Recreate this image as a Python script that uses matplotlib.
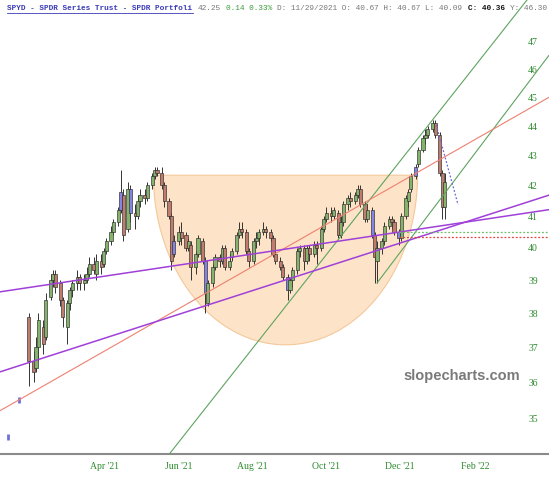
import numpy as np
import pandas as pd
import matplotlib
matplotlib.use('Agg')
import matplotlib.pyplot as plt
import matplotlib.dates as mdates
from matplotlib.lines import Line2D
from matplotlib.ticker import FixedLocator, FixedFormatter, NullLocator

# one candle every second trading day
dates = pd.bdate_range('2021-01-28', periods=248)[::2]

opens = [37.9, 36.6, 36.4, 37.0, 37.6, 37.3, 38.5, 39.0, 39.2, 38.9,
         38.4, 37.6, 38.3, 38.7, 38.9, 39.1, 38.9, 39.0, 39.2, 39.5,
         39.2, 39.6, 39.5, 39.9, 40.2, 40.5, 40.8, 41.2, 41.7, 40.6,
         41.9, 41.1, 41.0, 41.5, 41.7, 41.6, 42.0, 42.3, 42.5, 42.4,
         42.0, 41.5, 41.0, 39.8, 40.2, 40.5, 40.4, 40.0, 40.1, 39.4,
         39.8, 40.2, 39.6, 38.3, 38.9, 39.4, 39.7, 39.6, 40.0, 39.4,
         39.7, 39.9, 40.4, 40.6, 40.5, 39.9, 39.6, 40.2, 40.3, 40.5,
         40.6, 40.5, 40.3, 39.8, 39.6, 39.4, 39.1, 38.7, 39.0, 39.3,
         39.9, 40.0, 39.6, 40.0, 39.8, 40.1, 40.0, 40.6, 40.9, 41.1,
         41.0, 41.1, 40.4, 40.8, 41.4, 41.6, 41.5, 41.7, 41.9, 41.4,
         40.9, 41.2, 40.4, 39.6, 40.0, 40.2, 40.7, 40.9, 40.8, 40.5,
         40.3, 41.0, 41.5, 41.9, 42.3, 42.7, 43.2, 43.6, 43.7, 43.9,
         44.1, 43.7, 42.4, 41.3]
highs = [38.0, 36.9, 37.3, 38.0, 37.8, 38.6, 39.2, 39.3, 39.3, 39.0,
         38.5, 38.4, 38.8, 39.0, 39.3, 39.2, 39.2, 39.4, 39.7, 39.7,
         39.8, 39.8, 40.0, 40.3, 40.7, 40.9, 41.3, 42.5, 41.9, 42.1,
         42.0, 41.4, 41.7, 41.9, 41.9, 42.1, 42.4, 42.6, 42.6, 42.6,
         42.1, 41.6, 41.1, 40.4, 40.7, 40.8, 40.5, 40.3, 40.2, 39.9,
         40.4, 40.3, 39.7, 39.0, 39.5, 39.8, 39.8, 40.1, 40.1, 39.8,
         40.0, 40.5, 40.8, 40.8, 40.6, 40.0, 40.3, 40.5, 40.6, 40.8,
         40.7, 40.6, 40.4, 39.9, 39.7, 39.5, 39.2, 39.1, 39.4, 40.0,
         40.1, 40.1, 40.1, 40.1, 40.2, 40.2, 40.7, 41.0, 41.3, 41.3,
         41.3, 41.2, 41.0, 41.5, 41.7, 41.8, 41.8, 42.0, 42.0, 41.5,
         41.4, 41.3, 40.5, 40.2, 40.3, 40.8, 41.0, 41.0, 40.9, 40.6,
         41.1, 41.7, 41.9, 42.4, 42.7, 43.3, 43.7, 43.9, 44.0, 44.2,
         44.2, 43.8, 42.5, 42.4]
lows = [35.9, 36.0, 36.3, 36.6, 36.8, 37.2, 38.4, 38.8, 38.6, 38.2,
        37.6, 37.1, 38.1, 38.5, 38.7, 38.7, 38.7, 38.9, 39.1, 39.2,
        39.0, 39.2, 39.4, 39.8, 40.1, 40.4, 40.7, 41.1, 40.2, 40.5,
        40.8, 40.6, 40.9, 41.3, 41.4, 41.5, 41.9, 42.2, 42.3, 41.9,
        41.3, 40.9, 39.3, 39.7, 40.1, 40.1, 39.9, 39.9, 39.0, 39.2,
        39.7, 39.5, 38.0, 38.2, 38.8, 39.3, 39.4, 39.5, 39.3, 39.3,
        39.6, 39.8, 40.3, 40.3, 39.8, 39.4, 39.5, 40.0, 40.1, 40.4,
        40.3, 40.2, 39.7, 39.5, 39.3, 39.0, 38.4, 38.6, 38.8, 39.2,
        39.7, 39.3, 39.5, 39.6, 39.7, 39.5, 39.9, 40.5, 40.8, 40.8,
        40.9, 40.3, 40.3, 40.7, 41.2, 41.3, 41.4, 41.6, 41.3, 40.8,
        40.8, 40.3, 38.9, 38.9, 39.8, 40.1, 40.6, 40.6, 40.4, 40.1,
        40.2, 40.9, 41.3, 41.8, 42.2, 42.6, 43.1, 43.4, 43.6, 43.8,
        43.6, 42.3, 40.9, 40.9]
closes = [36.6, 36.3, 37.0, 37.8, 37.1, 38.4, 39.0, 39.2, 38.8, 38.4,
          37.9, 38.3, 38.7, 38.9, 39.1, 38.9, 39.0, 39.2, 39.5, 39.3,
          39.6, 39.4, 39.9, 40.2, 40.5, 40.8, 41.2, 41.8, 40.4, 41.9,
          41.1, 41.0, 41.5, 41.7, 41.6, 42.0, 42.3, 42.5, 42.4, 42.0,
          41.5, 41.0, 39.6, 40.2, 40.5, 40.3, 40.0, 40.2, 39.4, 39.8,
          40.3, 39.6, 38.6, 38.9, 39.4, 39.7, 39.6, 40.0, 39.4, 39.6,
          39.9, 40.4, 40.6, 40.5, 39.9, 39.6, 40.2, 40.3, 40.5, 40.6,
          40.5, 40.3, 39.8, 39.6, 39.4, 39.1, 38.7, 39.0, 39.3, 39.9,
          40.0, 39.6, 40.0, 39.8, 40.1, 40.0, 40.6, 40.9, 41.1, 41.0,
          41.2, 40.4, 40.8, 41.4, 41.6, 41.5, 41.7, 41.9, 41.4, 40.9,
          41.2, 40.4, 39.7, 40.0, 40.2, 40.7, 40.9, 40.8, 40.5, 40.3,
          41.0, 41.6, 41.8, 42.3, 42.6, 43.2, 43.6, 43.7, 43.9, 44.1,
          43.7, 42.4, 41.3, 42.1]
blue_bars = [27, 30, 43, 52, 76, 101, 109, 114]

# two stray prints at the far left
stray_dates = ['2021-01-11', '2021-01-20']
stray_prices = [34.48, 35.50]

# drawn trend lines: (dates, prices) of the two end points
green_upper = (['2021-05-25', '2022-03-16'], [34.06, 48.57])
green_lower = (['2021-11-12', '2022-04-03'], [38.91, 46.5])
red_line = (['2021-01-04', '2022-04-03'], [35.2, 45.0])
purple_a = (['2021-01-04', '2022-04-03'], [38.64, 41.21])
purple_b = (['2021-01-04', '2022-04-03'], [36.29, 41.68])
blue_dotted = (['2021-12-31', '2022-01-18'], [44.04, 41.37])
levels_start = '2021-11-30'
green_level = 40.49
red_level = 40.33

# rounding bottom (half ellipse)
bowl_center = '2021-08-28 07:00'
bowl_halfwidth = 109.2
bowl_top = 42.34
bowl_bottom = 37.07

tick_dates = ['2021-04-01', '2021-06-01', '2021-08-01', '2021-10-01', '2021-12-01', '2022-02-01']
tick_labels = ["Apr '21", "Jun '21", "Aug '21", "Oct '21", "Dec '21", "Feb '22"]
y_ticks = list(range(35, 48))

GREEN_TXT = '#2e8b2e'

fig = plt.figure(figsize=(5.49, 4.80), dpi=100)
ax = fig.add_axes([0, 26 / 480, 1, 454 / 480])
ax.set_yscale('log')

def dn(s):
    return mdates.date2num(pd.to_datetime(s))

# bowl
t = np.linspace(0, np.pi, 200)
bx = dn(bowl_center) + bowl_halfwidth * np.cos(t)
by = np.exp(np.log(bowl_top) - (np.log(bowl_top) - np.log(bowl_bottom)) * np.sin(t))
ax.fill(bx, by, facecolor='#fde4c8', edgecolor='#f4c89a', lw=0.8, zorder=1)

# candles
d = mdates.date2num(dates)
o = np.array(opens)
c = np.array(closes)
cols = np.where(c >= o, '#84b46c', '#c07c6c').astype(object)
cols[blue_bars] = '#8484e6'
ax.vlines(d, lows, highs, color='#333333', lw=0.7, zorder=3)
ax.bar(d, c - o, bottom=o, width=2.6, color=list(cols), edgecolor='#2a2a2a',
       linewidth=0.45, zorder=4)
ax.vlines(dn(stray_dates), np.array(stray_prices) - 0.08, np.array(stray_prices) + 0.08,
          color='#7070d8', lw=2, zorder=4)

# lines
for (xs, ys), col, lw in [(green_upper, '#5ea35e', 0.8), (green_lower, '#5ea35e', 0.8),
                          (red_line, '#ee8070', 0.8), (purple_a, '#a040d8', 1.1),
                          (purple_b, '#a040d8', 1.1)]:
    ax.plot(dn(xs), ys, color=col, lw=lw, zorder=5)
ax.plot(dn(blue_dotted[0]), blue_dotted[1], color='#6a6ad8', lw=0.9, ls=(0, (1.5, 1.5)), zorder=5)
ax.plot(dn([levels_start, '2022-04-03']), [green_level] * 2, color='#6cc06c', lw=0.9,
        ls=(0, (1.5, 1.5)), zorder=5)
ax.plot(dn([levels_start, '2022-04-03']), [red_level] * 2, color='#e84040', lw=0.9,
        ls=(0, (1.5, 1.5)), zorder=5)

ax.set_xlim(dn('2021-01-04 05:00'), dn('2022-04-03 05:00'))
ax.set_ylim(34.03, 48.57)

ax.set_xticks(dn(tick_dates))
ax.set_xticklabels(tick_labels)
ax.yaxis.set_major_locator(FixedLocator(y_ticks))
ax.yaxis.set_major_formatter(FixedFormatter([str(v) for v in y_ticks]))
ax.yaxis.set_minor_locator(NullLocator())
ax.yaxis.tick_right()
ax.tick_params(axis='x', length=0, pad=6, labelsize=7, labelcolor=GREEN_TXT)
ax.tick_params(axis='y', length=0, pad=-15, labelsize=7, labelcolor=GREEN_TXT)
for lab in ax.get_xticklabels() + ax.get_yticklabels():
    lab.set_fontfamily('Liberation Serif')
for s in ['top', 'left', 'right']:
    ax.spines[s].set_visible(False)
ax.spines['bottom'].set_color('#8a8a8a')
ax.spines['bottom'].set_linewidth(1.5)

# watermark
fig.text(462 / 549, 1 - 376 / 480, 'slopecharts.com', ha='center', va='center',
         fontsize=10.5, fontweight='bold', color='#7a7a7a', family='Liberation Sans')

# header line
char_w = 540 / 116
pieces = [(0, 'SPYD - SPDR Series Trust - SPDR Portfoli', '#3a3ab8', 'bold'),
          (41, '42.25', '#777777', 'normal'),
          (47, '0.14 0.33%', '#3a9a3a', 'normal'),
          (58, 'D: 11/29/2021 O: 40.67 H: 40.67 L: 40.09', '#777777', 'normal'),
          (99, 'C: 40.36', '#111111', 'bold'),
          (108, 'Y: 46.30', '#777777', 'normal')]
for idx, txt, col, wt in pieces:
    fig.text((7 + idx * char_w) / 549, 1 - 8 / 480, txt, ha='left', va='center',
             fontsize=5.6, family='Liberation Mono', color=col, fontweight=wt)
fig.add_artist(Line2D([7 / 549, (7 + 40 * char_w) / 549], [1 - 13 / 480] * 2,
                      color='#3a3ab8', lw=0.6))

fig.savefig('out.png', dpi=100)
